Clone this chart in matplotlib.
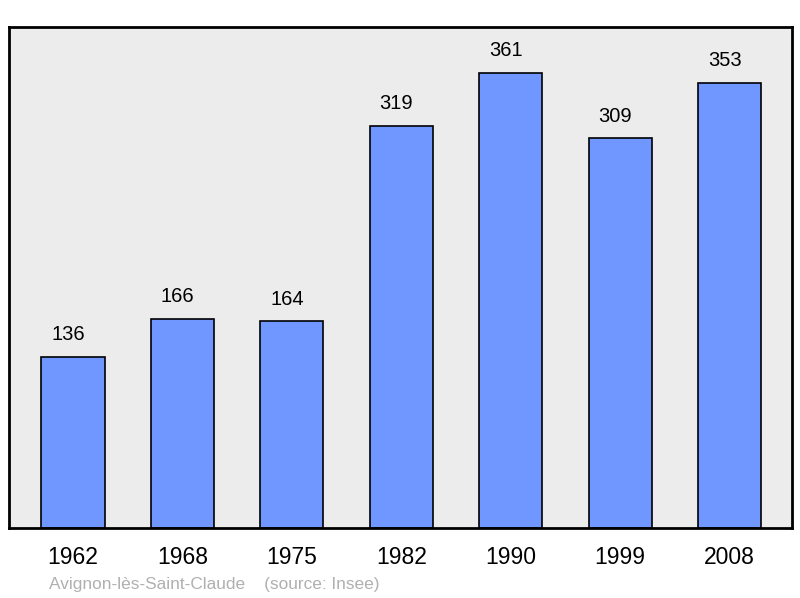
import matplotlib.pyplot as plt

# --- Data ---
years = ['1962', '1968', '1975', '1982', '1990', '1999', '2008']
population = [136, 166, 164, 319, 361, 309, 353]

plt.rcParams['font.family'] = ['Liberation Sans', 'DejaVu Sans']

fig = plt.figure(figsize=(8, 5.98), dpi=100)
ax = fig.add_axes([0.01125, 0.117, 0.97875, 0.838])
ax.set_facecolor('#ececec')

x = range(len(years))
ax.bar(x, population, width=0.576, color='#7097ff', edgecolor='black', linewidth=1.2, zorder=2)

# value labels, slightly left of bar centre like the original
for xi, v in zip(x, population):
    ax.annotate(str(v), (xi, v), xytext=(-3.5, 16), textcoords='offset points',
                ha='center', va='center', fontsize=14.5, color='black')

ax.set_xlim(-0.585, 6.572)
ax.set_ylim(0, 397.5)
ax.set_yticks([])
ax.set_xticks(list(x))
ax.set_xticklabels(years, fontsize=16.5)
ax.tick_params(axis='x', length=0, pad=13)

for s in ax.spines.values():
    s.set_linewidth(2)
    s.set_color('black')

fig.text(49 / 800, 1 - 584 / 598, 'Avignon-lès-Saint-Claude    (source: Insee)',
         fontsize=12.4, color='#b0b0b0', ha='left', va='center')

fig.savefig('out.png', dpi=100)
